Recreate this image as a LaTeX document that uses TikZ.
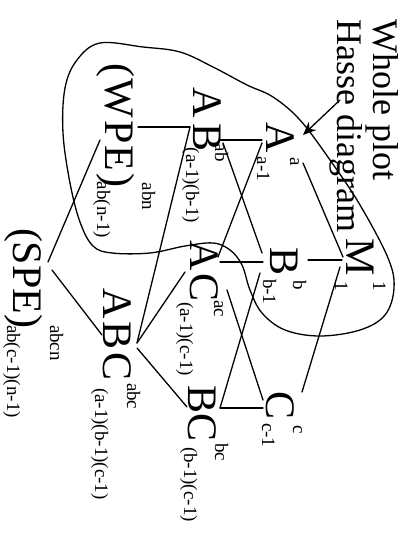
\documentclass[tikz,border=0pt]{standalone}
\usepackage{fontspec}
\setmainfont{Liberation Serif}
\usetikzlibrary{arrows.meta}
\begin{document}
\begin{tikzpicture}[x=1pt,y=-1pt,
  big/.style={rotate=-90,anchor=base west,inner sep=0pt,outer sep=0pt,font=\fontsize{42}{42}\selectfont},
  idx/.style={rotate=-90,anchor=base west,inner sep=0pt,outer sep=0pt,font=\fontsize{19}{19}\selectfont},
  ttl/.style={rotate=-90,anchor=base west,inner sep=0pt,outer sep=0pt,font=\fontsize{36}{36}\selectfont},
  edge/.style={line width=1.3pt,line cap=round},
]
\useasboundingbox (0,0) rectangle (405,537);

% title
\node[ttl] (title1) at (373,20) {Whole plot};
\node[ttl] (title2) at (337,20) {Hasse diagram};

% factor labels: main term, degrees of freedom above/below
\node[big] (M) at (346,238) {M};
\node[idx] (M-sup) at (373,281) {1};
\node[idx] (M-sub) at (335,281) {1};

\node[big] (A) at (266,123) {A};
\node[idx] (A-sup) at (290,158) {a};
\node[idx] (A-sub) at (257,157) {a-1};

\node[big] (B) at (270,247) {B};
\node[idx] (B-sup) at (293,280) {b};
\node[idx] (B-sub) at (263,279) {b-1};

\node[big] (C) at (266,391) {C};
\node[idx] (C-sup) at (293,425) {c};
\node[idx] (C-sub) at (262,423) {c-1};

\node[big] (AB) at (193,88) {A\kern5pt B};
\node[idx] (AB-sup) at (215,144) {ab};
\node[idx] (AB-sub) at (186,148) {(a-1)(b-1)};

\node[big] (AC) at (190,240) {A\kern3pt C};
\node[idx] (AC-sup) at (214,300) {ac};
\node[idx] (AC-sub) at (180,302) {(a-1)(c-1)};

\node[big] (BC) at (188,385) {B\kern1pt C};
\node[idx] (BC-sup) at (215,443) {bc};
\node[idx] (BC-sub) at (184,447) {(b-1)(c-1)};

\node[big] (WPE) at (105,64) {(\kern1pt W\kern2pt P\kern2pt E\kern2pt )};
\node[idx] (WPE-sup) at (142,183) {abn};
\node[idx] (WPE-sub) at (97,182) {ab(n-1)};

\node[big] (ABC) at (103,288) {A\kern3pt B\kern3pt C};
\node[idx] (ABC-sup) at (127,383) {abc};
\node[idx] (ABC-sub) at (95,388) {(a-1)(b-1)(c-1)};

\node[big] (SPE) at (13,228) {(SPE)};
\node[idx] (SPE-sup) at (50,325) {abcn};
\node[idx] (SPE-sub) at (7,325) {ab(c-1)(n-1)};

% connector ends
\coordinate (M-a) at (343,257);
\coordinate (M-b) at (342,260);
\coordinate (M-c) at (340,267);
\coordinate (A-t) at (303,163);
\coordinate (A-b1) at (262,140);
\coordinate (A-b2) at (262,143);
\coordinate (B-t) at (308,260);
\coordinate (B-b1) at (262,253);
\coordinate (B-b2) at (263,262);
\coordinate (B-b3) at (260,273);
\coordinate (C-t) at (302,392);
\coordinate (C-b1) at (263,400);
\coordinate (C-b2) at (263,408);
\coordinate (AB-t1) at (220,140);
\coordinate (AB-t2) at (223,143);
\coordinate (AB-b) at (190,127);
\coordinate (AC-t1) at (218,257);
\coordinate (AC-t2) at (220,262);
\coordinate (AC-t3) at (227,290);
\coordinate (AC-b) at (185,272);
\coordinate (BC-t) at (220,408);
\coordinate (BC-b) at (187,407);
\coordinate (WPE-t) at (138,127);
\coordinate (WPE-b) at (100,140);
\coordinate (ABC-t1) at (137,343);
\coordinate (ABC-t2) at (137,348);
\coordinate (ABC-b) at (102,335);
\coordinate (SPE-t1) at (48,262);
\coordinate (SPE-t2) at (52,270);

% Hasse diagram edges
\draw[edge] (M-a) -- (A-t);
\draw[edge] (M-b) -- (B-t);
\draw[edge] (M-c) -- (C-t);
\draw[edge] (A-b1) -- (AB-t1);
\draw[edge] (A-b2) -- (AC-t1);
\draw[edge] (B-b1) -- (AB-t2);
\draw[edge] (B-b2) -- (AC-t2);
\draw[edge] (B-b3) -- (BC-t);
\draw[edge] (C-b1) -- (AC-t3);
\draw[edge] (C-b2) -- (BC-t);
\draw[edge] (AB-b) -- (WPE-t);
\draw[edge] (AB-b) -- (ABC-t1);
\draw[edge] (AC-b) -- (ABC-t1);
\draw[edge] (BC-b) -- (ABC-t2);
\draw[edge] (WPE-b) -- (SPE-t1);
\draw[edge] (ABC-b) -- (SPE-t2);

% outline of the whole-plot part
\draw[edge] plot[smooth cycle,tension=0.6] coordinates {
  (100,43) (143,47) (180,52) (213,67) (247,85) (273,97) (300,120)
  (330,160) (360,205) (388,258) (394,288) (385,315) (360,330)
  (320,336) (285,330) (262,313) (250,290) (242,265) (230,250)
  (213,243) (185,246) (150,253) (112,253) (93,246) (80,222)
  (70,183) (63,133) (65,88) (77,60)};

% pointer from the title to the outline
\coordinate (arrow-tail) at (340,100);
\coordinate (arrow-tip) at (303,135);
\draw[edge,-{Stealth[length=13pt,width=11pt,inset=4pt]}] (arrow-tail) -- (arrow-tip);
\end{tikzpicture}
\end{document}
